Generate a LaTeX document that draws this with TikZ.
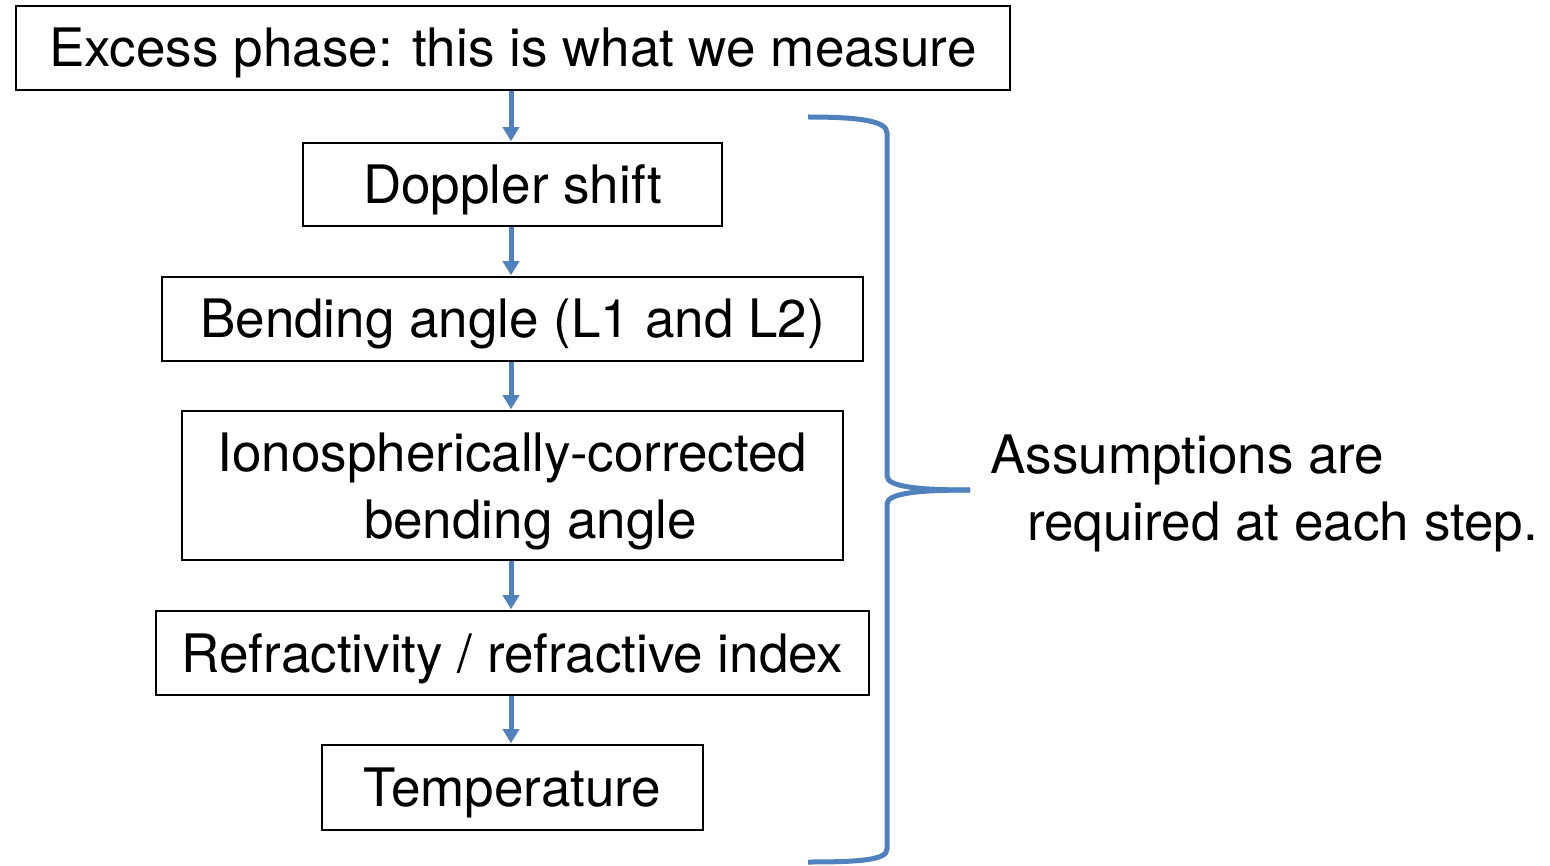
\documentclass[tikz,border=0pt]{standalone}
\usepackage{fontspec}
\setmainfont{TeX Gyre Heros}
\usetikzlibrary{arrows.meta}
\definecolor{kblue}{RGB}{79,129,189}
\tikzset{
  stepbox/.style={draw=black, line width=1.6pt, inner sep=0pt, text height=38pt, text depth=0pt,
    font=\fontsize{53}{67}\selectfont, align=center},
  flow/.style={draw=kblue, line width=5pt, -{Triangle[width=16pt,length=14pt]}, shorten >=1pt},
  bracestyle/.style={draw=kblue, line width=5pt, line cap=butt}
}
\begin{document}
\begin{tikzpicture}[x=1pt,y=-1pt]
\useasboundingbox (0,0) rectangle (1550,866);
\node[stepbox, minimum width=994pt, minimum height=84pt] (a) at (513,48) {Excess phase: this is what we measure};
\node[stepbox, minimum width=419pt, minimum height=83pt] (b) at (512.5,184.5) {Doppler shift};
\node[stepbox, minimum width=701pt, minimum height=84pt] (c) at (512.5,319) {Bending angle (L1 and L2)};
\node[stepbox, text height=105pt, minimum width=661pt, minimum height=149pt] (d) at (512.5,485.5) {Ionospherically-corrected\\\hspace*{36pt}bending angle};
\node[stepbox, minimum width=713pt, minimum height=84pt] (e) at (512.5,653) {Refractivity / refractive index};
\node[stepbox, minimum width=381pt, minimum height=85pt] (f) at (512.5,787.5) {Temperature};
\draw[flow] (a.south -| 511,0) -- (b.north -| 511,0);
\draw[flow] (b.south -| 511,0) -- (c.north -| 511,0);
\draw[flow] (c.south -| 511,0) -- (d.north -| 511,0);
\draw[flow] (d.south -| 511,0) -- (e.north -| 511,0);
\draw[flow] (e.south -| 511,0) -- (f.north -| 511,0);
\coordinate (tip) at (970,490);
\draw[bracestyle] (808,117) .. controls (860,117) and (887,121) .. (887,133) -- (887,476)
  .. controls (887,487) and (920,490) .. (tip);
\draw[bracestyle] (tip) .. controls (920,490) and (887,493) .. (887,504) -- (887,849)
  .. controls (887,860) and (860,862) .. (808,862);
\node[anchor=base west, inner sep=0pt, align=left, font=\fontsize{53}{67}\selectfont] (note) at (990,540)
  {Assumptions are\\\hspace*{37pt}required at each step.};
\end{tikzpicture}
\end{document}
